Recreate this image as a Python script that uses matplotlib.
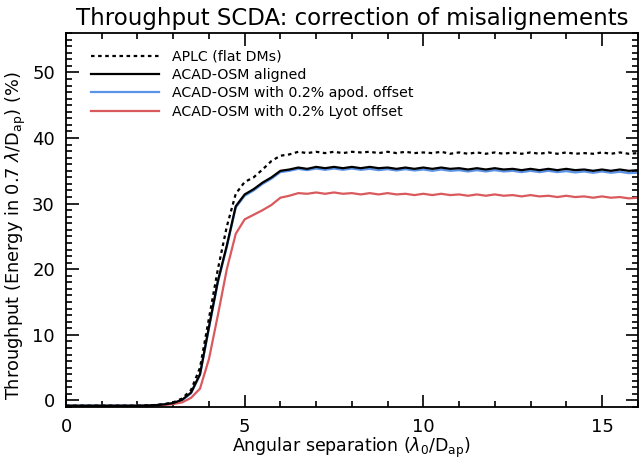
import numpy as np
import matplotlib
matplotlib.use("Agg")
import matplotlib.pyplot as plt
from matplotlib.ticker import MultipleLocator

# angular separation grid (lambda0/Dap)
sep = np.arange(0, 16.001, 0.25)

low = [-0.8] * 9

aplc_flat = low + [
    -0.75, -0.7, -0.55, -0.3, 0.3, 1.6, 5.0, 12.5, 20.0, 26.5,
    31.5, 33.3, 34.0, 35.2, 36.5, 37.3, 37.5, 37.9, 37.7,
    37.9, 37.7, 37.9, 37.7, 37.9, 37.8, 37.9, 37.7, 37.9, 37.7,
    37.9, 37.7, 37.8, 37.7, 37.9, 37.6, 37.8, 37.6, 37.8, 37.6,
    37.8, 37.6, 37.8, 37.6, 37.8, 37.6, 37.8, 37.6, 37.8, 37.6,
    37.7, 37.6, 37.8, 37.6, 37.8, 37.6, 37.7]

acad_aligned = low + [
    -0.78, -0.72, -0.6, -0.4, 0.1, 1.2, 4.0, 11.2, 18.2, 23.6,
    29.6, 31.4, 32.2, 33.2, 34.0, 35.0, 35.2, 35.5, 35.3,
    35.6, 35.4, 35.6, 35.4, 35.6, 35.4, 35.6, 35.4, 35.5, 35.3,
    35.5, 35.3, 35.5, 35.3, 35.5, 35.3, 35.4, 35.2, 35.4, 35.2,
    35.4, 35.2, 35.3, 35.1, 35.3, 35.1, 35.3, 35.1, 35.3, 35.1,
    35.2, 35.0, 35.2, 35.0, 35.2, 35.0, 35.1]

acad_apod = low + [
    -0.78, -0.72, -0.6, -0.42, 0.05, 1.1, 3.9, 11.0, 18.0, 23.4,
    29.4, 31.2, 32.0, 33.0, 33.8, 34.8, 35.0, 35.3, 35.1,
    35.35, 35.15, 35.35, 35.15, 35.35, 35.15, 35.3, 35.1, 35.25, 35.05,
    35.25, 35.05, 35.2, 35.0, 35.2, 35.0, 35.1, 34.9, 35.1, 34.9,
    35.1, 34.9, 35.0, 34.8, 35.0, 34.8, 35.0, 34.8, 34.95, 34.75,
    34.9, 34.7, 34.9, 34.7, 34.85, 34.65, 34.7]

acad_lyot = [-0.85] * 9 + [
    -0.82, -0.78, -0.7, -0.55, -0.3, 0.4, 1.8, 6.3, 13.0, 20.0,
    25.4, 27.6, 28.3, 29.0, 29.8, 30.9, 31.2, 31.6, 31.5,
    31.7, 31.5, 31.7, 31.5, 31.6, 31.4, 31.6, 31.4, 31.6, 31.4,
    31.5, 31.3, 31.5, 31.3, 31.5, 31.3, 31.4, 31.2, 31.4, 31.2,
    31.4, 31.2, 31.3, 31.1, 31.3, 31.1, 31.2, 31.0, 31.2, 31.0,
    31.1, 30.9, 31.1, 30.9, 31.0, 30.8, 30.9]

labels = ["APLC (flat DMs)", "ACAD-OSM aligned",
          "ACAD-OSM with 0.2% apod. offset", "ACAD-OSM with 0.2% Lyot offset"]

fig = plt.figure(figsize=(6.39, 4.59), dpi=100)
ax = fig.add_axes([0.1033, 0.1133, 0.8947, 0.8147])

ax.plot(sep, aplc_flat, color="black", lw=1.6, ls=(0, (1.6, 1.6)), label=labels[0], zorder=4)
ax.plot(sep, acad_aligned, color="black", lw=1.6, label=labels[1], zorder=3)
ax.plot(sep, acad_apod, color="#5b93e6", lw=1.6, label=labels[2], zorder=2)
ax.plot(sep, acad_lyot, color="#d9595c", lw=1.6, label=labels[3], zorder=2)

ax.set_xlim(0, 16)
ax.set_ylim(-1, 56)
ax.xaxis.set_major_locator(MultipleLocator(5))
ax.xaxis.set_minor_locator(MultipleLocator(1))
ax.yaxis.set_major_locator(MultipleLocator(10))
ax.yaxis.set_minor_locator(MultipleLocator(1))
ax.tick_params(which="both", direction="in", top=True, right=True, labelsize=13, width=1.2)
ax.tick_params(which="major", length=9, pad=8)
ax.tick_params(which="minor", length=4.5)
for s in ax.spines.values():
    s.set_linewidth(1.3)

ax.set_title("Throughput SCDA: correction of misalignements", fontsize=16.5, pad=6)
ax.set_xlabel(r"Angular separation ($\lambda_0$/D$_\mathrm{ap}$)", fontsize=12.5, labelpad=0)
ax.set_ylabel(r"Throughput (Energy in 0.7 $\lambda$/D$_\mathrm{ap}$) (%)", fontsize=12.8)
ax.yaxis.set_label_coords(-0.066, 0.457)

ax.legend(loc="upper left", bbox_to_anchor=(0.034, 0.97), frameon=False, fontsize=10.2,
          handlelength=4.8, handletextpad=0.9, labelspacing=0.3, borderaxespad=0)

fig.savefig("out.png", dpi=100)
